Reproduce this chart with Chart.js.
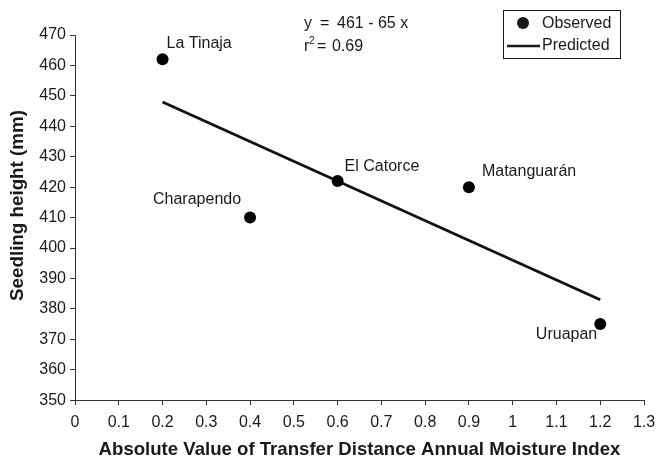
<!DOCTYPE html>
<html><head><meta charset="utf-8">
<script src="https://cdn.jsdelivr.net/npm/chart.js@4/dist/chart.umd.min.js"></script>
<style>html,body{margin:0;padding:0;background:#fff}#wrap{width:658px;height:459px;position:relative}</style>
</head><body><div id="wrap"><canvas id="c" width="658" height="459"></canvas></div>
<script>
const sites = ["La Tinaja", "Charapendo", "El Catorce", "Matanguarán", "Uruapan"];
const distance = [0.2, 0.4, 0.6, 0.9, 1.2];
const heightObserved = [462, 410, 422, 420, 375];
const predictedX = [0.2, 1.2];
const predictedY = [448, 383];
const equationLine1 = ["y", "=", "461 - 65 x"];
const equationLine2 = ["r", "2", "=", "0.69"];
const yAxisTitle = "Seedling height (mm)";
const xAxisTitle = "Absolute Value of Transfer Distance Annual Moisture Index";

const FONT = "'Liberation Sans', Arial, sans-serif";
const INK = "#1a1a1a";

// label placement (style): dx, dy relative to point, alignment
const labelStyle = [
  {dx: 4, dy: -16, align: "left"},
  {dx: -9, dy: -18, align: "right"},
  {dx: 7, dy: -14, align: "left"},
  {dx: 13, dy: -16, align: "left"},
  {dx: -3, dy: 10, align: "right"}
];

const annot = {
  id: "annot",
  afterDatasetsDraw(chart) {
    const ctx = chart.ctx, xs = chart.scales.x, ys = chart.scales.y;
    ctx.save();
    ctx.fillStyle = INK;
    ctx.font = "16px " + FONT;
    ctx.textBaseline = "middle";
    sites.forEach((s, i) => {
      const px = xs.getPixelForValue(distance[i]);
      const py = ys.getPixelForValue(heightObserved[i]);
      const st = labelStyle[i];
      ctx.textAlign = st.align;
      ctx.fillText(s, px + st.dx, py + st.dy);
    });
    // equation
    ctx.textAlign = "left";
    ctx.fillText(equationLine1[0], 304, 24);
    ctx.fillText(equationLine1[1], 320, 24);
    ctx.fillText(equationLine1[2], 337, 24);
    ctx.fillText(equationLine2[0], 304, 47);
    ctx.font = "10px " + FONT;
    ctx.fillText(equationLine2[1], 309, 41);
    ctx.font = "16px " + FONT;
    ctx.fillText(equationLine2[2], 317, 47);
    ctx.fillText(equationLine2[3], 332, 47);
    // legend box
    const lx = 503, ly = 10, lw = 117, lh = 48;
    ctx.strokeStyle = INK; ctx.lineWidth = 1;
    ctx.strokeRect(lx + 0.5, ly + 0.5, lw, lh);
    ctx.beginPath();
    ctx.arc(523, 23, 6, 0, Math.PI * 2);
    ctx.fill();
    ctx.lineWidth = 2.6;
    ctx.beginPath(); ctx.moveTo(507, 46); ctx.lineTo(540, 46); ctx.stroke();
    ctx.fillText(chart.data.datasets[0].label, 542, 24);
    ctx.fillText(chart.data.datasets[1].label, 542, 46);
    // y axis title
    ctx.translate(18, 205.5);
    ctx.rotate(-Math.PI / 2);
    ctx.textAlign = "center";
    ctx.font = "bold 18.8px " + FONT;
    ctx.fillText(yAxisTitle, 0, 0);
    ctx.restore();
  }
};

new Chart(document.getElementById("c"), {
  type: "scatter",
  data: {
    datasets: [
      {
        label: "Observed",
        data: distance.map((x, i) => ({x, y: heightObserved[i]})),
        pointRadius: 6, pointHoverRadius: 6,
        backgroundColor: "#000", borderColor: "#000", borderWidth: 0,
        showLine: false, order: 1
      },
      {
        label: "Predicted",
        data: predictedX.map((x, i) => ({x, y: predictedY[i]})),
        showLine: true, pointRadius: 0, borderColor: "#111", borderWidth: 2.8,
        order: 2
      }
    ]
  },
  options: {
    responsive: false, animation: false,
    layout: {padding: {left: 36, right: 0, top: 35, bottom: 0}},
    plugins: {legend: {display: false}, tooltip: {enabled: false}},
    scales: {
      x: {
        type: "linear", min: 0, max: 1.3,
        afterFit: s => { s.paddingRight = 14; },
        ticks: {stepSize: 0.1, color: INK, font: {family: FONT, size: 16}, padding: 8,
          callback: v => String(+v.toFixed(1))},
        grid: {display: true, drawOnChartArea: false, drawTicks: true, tickLength: 5, color: "#333", lineWidth: 1},
        border: {color: "#333", width: 1},
        title: {display: true, text: xAxisTitle,
          color: INK, font: {family: FONT, size: 18.6, weight: "bold", lineHeight: 1.0}, padding: {top: 0, bottom: 0}}
      },
      y: {
        type: "linear", min: 350, max: 470,
        afterFit: s => { s.width = 39; },
        ticks: {stepSize: 10, color: INK, font: {family: FONT, size: 16}, padding: 4},
        grid: {display: true, drawOnChartArea: false, drawTicks: true, tickLength: 5, color: "#333", lineWidth: 1},
        border: {color: "#333", width: 1},
        title: {display: false}
      }
    }
  },
  plugins: [annot]
});
</script></body></html>
